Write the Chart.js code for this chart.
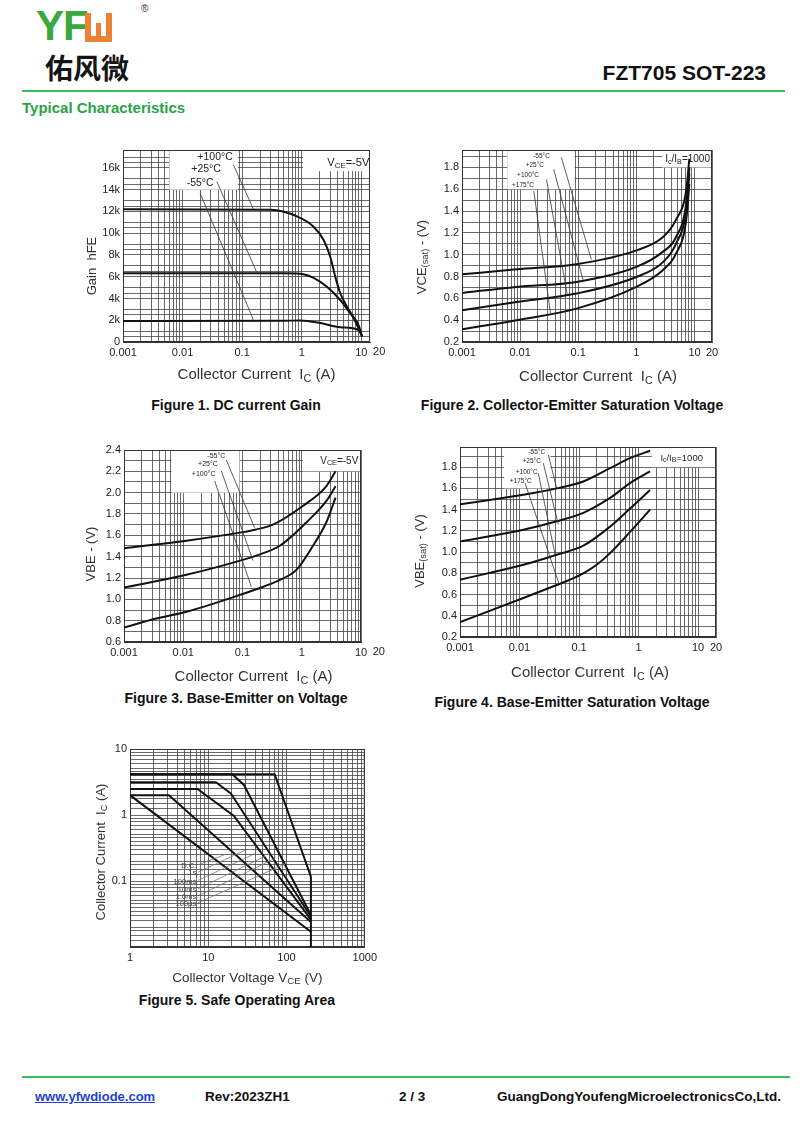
<!DOCTYPE html>
<html>
<head>
<meta charset="utf-8">
<script src="https://cdn.jsdelivr.net/npm/chart.js@4.4.1/dist/chart.umd.min.js"></script>
<style>
body { margin: 0; background: #fff; }
#page { position: relative; width: 800px; height: 1136px; overflow: hidden; font-family: "Liberation Sans", Arial, sans-serif; }
.abs { position: absolute; white-space: nowrap; }
canvas { position: absolute; }
.cap { position: absolute; width: 380px; text-align: center; font-weight: bold; font-size: 14px; color: #111; }
.foot { position: absolute; top: 1089px; font-weight: bold; font-size: 13.5px; color: #111; white-space: nowrap; }
</style>
</head>
<body>
<div id="page">
  <!-- header -->
  <div class="abs" style="left:36px;top:2px;font-family:'Liberation Sans Narrow','Liberation Sans',Arial;font-weight:bold;font-size:42px;color:#3aa83c;letter-spacing:-1px;line-height:48px">YF</div>
  <div class="abs" style="left:85px;top:13px;width:15px;height:23px;border:6px solid #ec8034;border-top:none"></div>
  <div class="abs" style="left:96px;top:23px;width:5px;height:16px;background:#ec8034"></div>
  <div class="abs" style="left:141px;top:3px;font-size:10px;color:#333">®</div>
  <div class="abs" style="left:45px;top:49px;font-family:'Noto Sans CJK SC';font-weight:bold;font-size:28px;color:#151515;line-height:36px">佑风微</div>
  <div class="abs" style="right:34px;top:61px;font-weight:bold;font-size:21px;color:#111">FZT705 SOT-223</div>
  <div class="abs" style="left:22px;top:90px;width:763px;height:2px;background:#3dba5e"></div>
  <div class="abs" style="left:22px;top:99px;font-weight:bold;font-size:15px;color:#2aa348">Typical Characteristics</div>

  <canvas id="fig1"></canvas>
  <canvas id="fig2"></canvas>
  <canvas id="fig3"></canvas>
  <canvas id="fig4"></canvas>
  <canvas id="fig5"></canvas>

  <div class="cap" style="left:46px;top:397px">Figure 1. DC current Gain</div>
  <div class="cap" style="left:382px;top:397px">Figure 2. Collector-Emitter Saturation Voltage</div>
  <div class="cap" style="left:46px;top:690px">Figure 3. Base-Emitter on Voltage</div>
  <div class="cap" style="left:382px;top:694px">Figure 4. Base-Emitter Saturation Voltage</div>
  <div class="cap" style="left:47px;top:992px">Figure 5. Safe Operating Area</div>

  <!-- footer -->
  <div class="abs" style="left:22px;top:1076px;width:768px;height:2px;background:#3dba5e"></div>
  <div class="foot" style="left:35px;font-size:13px;color:#1d3fd6;text-decoration:underline">www.yfwdiode.com</div>
  <div class="foot" style="left:205px">Rev:2023ZH1</div>
  <div class="foot" style="left:399px">2 / 3</div>
  <div class="foot" style="left:497px">GuangDongYoufengMicroelectronicsCo,Ltd.</div>
</div>

<script>
// ---------- Figure 1: DC current gain ----------
const f1Ic100 = [0.001, 0.3, 0.83, 1.58, 2.33, 3.01, 3.66, 4.43, 5.75, 7.43, 9.6, 10.3];
const f1Hfe100 = [12200, 12150, 11550, 10600, 9380, 7840, 6000, 4480, 3250, 2200, 900, 500];
const f1Ic25 = [0.001, 0.5, 0.94, 1.58, 2.65, 4.43, 6.53, 9.0, 10.3];
const f1Hfe25 = [6320, 6320, 6280, 5900, 5080, 3860, 2640, 1560, 500];
const f1IcM55 = [0.001, 0.5, 0.94, 2.05, 4.43, 9.0, 10.3];
const f1HfeM55 = [1930, 1950, 1980, 1750, 1350, 1100, 600];
const f1YTicks = [0, 2000, 4000, 6000, 8000, 10000, 12000, 14000, 16000];
const f1YText = ['0', '2k', '4k', '6k', '8k', '10k', '12k', '14k', '16k'];

// ---------- Figure 2: VCE(sat) ----------
const f2Ic = [0.001, 0.0087, 0.093, 1.0, 2.84, 4.8, 7.2, 8.15];
const f2M55 = [0.82, 0.867, 0.913, 1.04, 1.16, 1.32, 1.59, 1.88];
const f2P25 = [0.65, 0.705, 0.75, 0.888, 1.026, 1.16, 1.47, 1.80];
const f2P100 = [0.49, 0.567, 0.644, 0.796, 0.93, 1.10, 1.41, 1.745];
const f2P175 = [0.316, 0.40, 0.506, 0.705, 0.858, 1.01, 1.317, 1.65];

// ---------- Figure 3: VBE(on) ----------
const f3IcM55 = [0.001, 0.0113, 0.101, 0.17, 0.326, 1.04, 2.59, 3.72];
const f3M55 = [1.48, 1.55, 1.63, 1.655, 1.70, 1.875, 2.06, 2.2];
const f3Ic25 = [0.001, 0.0113, 0.101, 0.17, 0.42, 1.19, 2.59, 3.72];
const f3P25 = [1.11, 1.23, 1.37, 1.41, 1.50, 1.72, 1.92, 2.06];
const f3Ic100 = [0.001, 0.0035, 0.0113, 0.101, 0.17, 0.42, 0.81, 1.54, 2.59, 3.72];
const f3P100 = [0.736, 0.82, 0.883, 1.05, 1.094, 1.18, 1.276, 1.50, 1.72, 1.953];

// ---------- Figure 4: VBE(sat) ----------
const f4Ic = [0.001, 0.0116, 0.0422, 0.118, 0.332, 0.72, 1.56];
const f4M55 = [1.45, 1.54, 1.60, 1.665, 1.79, 1.885, 1.955];
const f4P25 = [1.10, 1.21, 1.29, 1.37, 1.51, 1.65, 1.76];
const f4P100 = [0.74, 0.88, 0.975, 1.06, 1.24, 1.41, 1.585];
const f4Ic175 = [0.001, 0.0116, 0.0422, 0.0706, 0.118, 0.198, 0.332, 0.72, 1.56];
const f4P175 = [0.34, 0.567, 0.69, 0.74, 0.80, 0.88, 0.99, 1.19, 1.40];

// ---------- Figure 5: safe operating area ----------
const soaVdc = [1, 205];            const soaIdc = [2.0, 0.017];
const soaV1s = [1, 3.15, 205];      const soaI1s = [2.0, 2.0, 0.024];
const soaV100ms = [1, 7.3, 21.3, 205];  const soaI100ms = [2.48, 2.48, 0.97, 0.026];
const soaV10ms = [1, 12.5, 19.4, 205];  const soaI10ms = [3.13, 3.13, 2.13, 0.029];
const soaV1ms = [1, 20.3, 28.6, 205];   const soaI1ms = [4.14, 4.14, 2.85, 0.0305];
const soaV100us = [1, 70.5, 205, 205];  const soaI100us = [4.14, 4.14, 0.116, 0.01];
const soaNames = ['D.C.', '1s', '100ms', '10ms', '1.0ms', '100µs'];

// tick labels
const icTicks = [0.001, 0.01, 0.1, 1, 10, 20];
const icText = ['0.001', '0.01', '0.1', '1', '10', '20'];
const v02Ticks = [0.2, 0.4, 0.6, 0.8, 1.0, 1.2, 1.4, 1.6, 1.8, 2.0, 2.2, 2.4];
const v02Text = ['0.2', '0.4', '0.6', '0.8', '1.0', '1.2', '1.4', '1.6', '1.8', '2.0', '2.2', '2.4'];
const vceTicks = [1, 10, 100, 1000];
const vceText = ['1', '10', '100', '1000'];
const soaITicks = [0.1, 1, 10];
const soaIText = ['0.1', '1', '10'];

const LOG_SIG = [1, 2, 3, 4, 5, 6, 7, 8, 9];
const SOA_SIG = [1, 1.25, 1.5, 1.75, 2, 2.5, 3, 3.5, 4, 4.5, 5, 6, 7, 8, 9];

const pts = (xs, ys) => xs.map((v, i) => ({ x: v, y: ys[i] }));

function logGrid(min, max, sig) {
  const out = [];
  for (let e = Math.floor(Math.log10(min)); e <= Math.ceil(Math.log10(max)); e++) {
    sig.forEach(s => {
      const v = +(s * Math.pow(10, e)).toPrecision(6);
      if (v >= min * 0.9999 && v <= max * 1.0001) out.push(v);
    });
  }
  return out;
}
function linGrid(min, max, step) {
  const out = [];
  for (let v = min; v <= max + 1e-9; v += step) out.push(+v.toFixed(4));
  return out;
}
function labeler(ticks, text) {
  return v => {
    const k = ticks.findIndex(t => Math.abs(t - v) <= Math.abs(t) * 1e-6 + 1e-9);
    return k >= 0 ? text[k] : '';
  };
}

const FONT = '"Liberation Sans", Arial, sans-serif';
function drawRuns(ctx, x, y, runs, size, align, rot, color) {
  ctx.save();
  ctx.translate(x, y);
  if (rot) ctx.rotate(rot);
  ctx.fillStyle = color || '#222';
  ctx.textBaseline = 'middle';
  ctx.textAlign = 'left';
  let w = 0;
  runs.forEach(r => { ctx.font = (r[1] ? size * 0.72 : size) + 'px ' + FONT; w += ctx.measureText(r[0]).width; });
  let cx = align === 'center' ? -w / 2 : align === 'right' ? -w : 0;
  runs.forEach(r => {
    ctx.font = (r[1] ? size * 0.72 : size) + 'px ' + FONT;
    ctx.fillText(r[0], cx, r[1] ? size * 0.25 : 0);
    cx += ctx.measureText(r[0]).width;
  });
  ctx.restore();
}

const decor = {
  id: 'decor',
  beforeDatasetsDraw(chart, args, o) {
    const { ctx, chartArea: a } = chart;
    const x = chart.scales.x, y = chart.scales.y;
    ctx.save();
    ctx.fillStyle = '#fff';
    (o.boxes || []).forEach(b => {
      const l = b[0] == null ? a.left : x.getPixelForValue(b[0]);
      const r = b[1] == null ? a.right : x.getPixelForValue(b[1]);
      const bo = b[2] == null ? a.bottom : y.getPixelForValue(b[2]);
      const t = b[3] == null ? a.top : y.getPixelForValue(b[3]);
      ctx.fillRect(l, t, r - l, bo - t);
    });
    ctx.strokeStyle = '#333';
    ctx.lineWidth = 1;
    ctx.strokeRect(a.left + 0.5, a.top + 0.5, a.width - 1, a.height - 1);
    ctx.restore();
  },
  afterDatasetsDraw(chart, args, o) {
    const { ctx, chartArea: a } = chart;
    const x = chart.scales.x, y = chart.scales.y;
    ctx.save();
    ctx.strokeStyle = o.leaderColor || '#333';
    ctx.lineWidth = 0.8;
    (o.leaders || []).forEach(l => {
      ctx.beginPath();
      ctx.moveTo(x.getPixelForValue(l[0]), y.getPixelForValue(l[1]));
      ctx.lineTo(x.getPixelForValue(l[2]), y.getPixelForValue(l[3]));
      ctx.stroke();
    });
    (o.notes || []).forEach(n => drawRuns(ctx, x.getPixelForValue(n.x), y.getPixelForValue(n.y), n.runs, n.size, n.align || 'center', 0, n.color || '#222'));
    const t = o.xTitle;
    drawRuns(ctx, (a.left + a.right) / 2 + t.dx, a.bottom + t.dy, t.runs, t.size, 'center', 0, '#333');
    const u = o.yTitle;
    drawRuns(ctx, a.left - u.dx, (a.top + a.bottom) / 2 + u.dy, u.runs, u.size, 'center', -Math.PI / 2, '#333');
    ctx.fillStyle = '#222';
    ctx.font = '11px ' + FONT;
    ctx.textAlign = 'center';
    ctx.textBaseline = 'top';
    (o.extraX || []).forEach(e => ctx.fillText(e[1], x.getPixelForValue(e[0]), a.bottom + 4));
    ctx.restore();
  }
};

function makeChart(id, s) {
  const el = document.getElementById(id);
  const padT = 10, axisW = 48, axisH = 45;
  const [l, t, r, b] = s.plot;
  el.style.left = (l - axisW) + 'px';
  el.style.top = (t - padT) + 'px';
  el.width = r - l + axisW + s.padR;
  el.height = b - t + padT + axisH;
  const tickFont = { family: FONT, size: 11 };
  new Chart(el, {
    type: 'line',
    data: {
      datasets: s.series.map(d => ({
        data: d,
        borderColor: '#111',
        borderWidth: 2,
        pointRadius: 0,
        fill: false,
        tension: s.straight ? 0 : 0.4,
        cubicInterpolationMode: s.straight ? 'default' : 'monotone'
      }))
    },
    options: {
      responsive: false,
      animation: false,
      events: [],
      layout: { padding: { top: padT, right: s.padR, left: 0, bottom: 0 } },
      plugins: { legend: { display: false }, tooltip: { enabled: false }, decor: s.decor },
      scales: {
        x: {
          type: s.xType, min: s.xMin, max: s.xMax,
          afterBuildTicks: ax => { ax.ticks = s.xGrid.map(v => ({ value: v })); },
          afterFit: ax => { ax.height = axisH; },
          grid: { color: '#444', lineWidth: 0.8, drawTicks: false },
          border: { color: '#333', width: 1 },
          ticks: { autoSkip: false, maxRotation: 0, padding: 4, font: tickFont, color: '#222', callback: s.xLabel }
        },
        y: {
          type: s.yType, min: s.yMin, max: s.yMax,
          afterBuildTicks: ax => { ax.ticks = s.yGrid.map(v => ({ value: v })); },
          afterFit: ax => { ax.width = axisW; },
          grid: { color: '#444', lineWidth: 0.8, drawTicks: false },
          border: { color: '#333', width: 1 },
          ticks: { autoSkip: false, padding: 3, font: tickFont, color: '#222', callback: s.yLabel }
        }
      }
    },
    plugins: [decor]
  });
}

const title = txt => [[txt]];
const icTitle = [['Collector Current  I'], ['C', 1], [' (A)']];

// Figure 1
const f1YGrid = [];
f1YTicks.forEach(v => { f1YGrid.push(v, v + 500, v + 1000); });
makeChart('fig1', {
  plot: [123, 150, 370, 342], padR: 22,
  xType: 'logarithmic', xMin: 0.001, xMax: 14, xGrid: logGrid(0.001, 14, LOG_SIG), xLabel: labeler(icTicks, icText),
  yType: 'linear', yMin: 0, yMax: 17650, yGrid: f1YGrid.filter(v => v <= 17650), yLabel: labeler(f1YTicks, f1YText),
  series: [pts(f1Ic100, f1Hfe100), pts(f1Ic25, f1Hfe25), pts(f1IcM55, f1HfeM55)],
  decor: {
    boxes: [[0.006, 0.085, 14000, null], [1.05, null, 15700, null]],
    leaders: [[0.0714, 16276, 0.155, 12200], [0.0376, 14740, 0.177, 6372], [0.0197, 13674, 0.155, 2023]],
    notes: [
      { x: 0.0351, y: 17011, runs: title('+100°C'), size: 10.5 },
      { x: 0.0248, y: 15908, runs: title('+25°C'), size: 10.5 },
      { x: 0.0197, y: 14621, runs: title('-55°C'), size: 10.5 },
      { x: 6.05, y: 16460, runs: [['V'], ['CE', 1], ['=-5V']], size: 11 }
    ],
    xTitle: { runs: icTitle, size: 15, dx: 10, dy: 33 },
    yTitle: { runs: title('Gain  hFE'), size: 13, dx: 31, dy: 20 },
    extraX: [[20, '20']]
  }
});

// Figure 2
makeChart('fig2', {
  plot: [462, 150, 712.5, 342], padR: 20,
  xType: 'logarithmic', xMin: 0.001, xMax: 20, xGrid: logGrid(0.001, 20, LOG_SIG), xLabel: labeler(icTicks, icText),
  yType: 'linear', yMin: 0.2, yMax: 1.96, yGrid: linGrid(0.2, 1.96, 0.1), yLabel: labeler(v02Ticks.slice(0, 9), v02Text.slice(0, 9)),
  series: [pts(f2Ic, f2M55), pts(f2Ic, f2P25), pts(f2Ic, f2P100), pts(f2Ic, f2P175)],
  decor: {
    boxes: [[0.006, 0.087, 1.6, null], [2.8, null, 1.8, null]],
    leaders: [[0.0513, 1.892, 0.168, 0.956], [0.0379, 1.782, 0.1205, 0.772], [0.0284, 1.69, 0.065, 0.628], [0.0172, 1.585, 0.0332, 0.466]],
    notes: [
      { x: 0.0233, y: 1.904, runs: title('-55°C'), size: 6.5 },
      { x: 0.0179, y: 1.821, runs: title('+25°C'), size: 6.5 },
      { x: 0.0137, y: 1.729, runs: title('+100°C'), size: 6.5 },
      { x: 0.0112, y: 1.638, runs: title('+175°C'), size: 6.5 },
      { x: 7.6, y: 1.873, runs: [['I'], ['c', 1], ['/I'], ['B', 1], ['=1000']], size: 10 }
    ],
    xTitle: { runs: icTitle, size: 15, dx: 11, dy: 35 },
    yTitle: { runs: [['VCE'], ['(sat)', 1], [' - (V)']], size: 13, dx: 40, dy: 11 }
  }
});

// Figure 3
makeChart('fig3', {
  plot: [124, 450, 361.5, 642], padR: 30,
  xType: 'logarithmic', xMin: 0.001, xMax: 10, xGrid: logGrid(0.001, 10, LOG_SIG), xLabel: labeler(icTicks, icText),
  yType: 'linear', yMin: 0.6, yMax: 2.4, yGrid: linGrid(0.6, 2.4, 0.1), yLabel: labeler(v02Ticks, v02Text),
  series: [pts(f3IcM55, f3M55), pts(f3Ic25, f3P25), pts(f3Ic100, f3P100)],
  decor: {
    boxes: [[0.0063, 0.089, 2.0, null], [1.04, null, 2.2, null]],
    leaders: [[0.0533, 2.307, 0.16, 1.67], [0.0439, 2.204, 0.15, 1.364], [0.0339, 2.109, 0.141, 1.119]],
    notes: [
      { x: 0.0361, y: 2.345, runs: title('-55°C'), size: 7 },
      { x: 0.0261, y: 2.267, runs: title('+25°C'), size: 7 },
      { x: 0.0221, y: 2.173, runs: title('+100°C'), size: 7 },
      { x: 4.3, y: 2.298, runs: [['V'], ['CE', 1], ['=-5V']], size: 10 }
    ],
    xTitle: { runs: icTitle, size: 15, dx: 11, dy: 35 },
    yTitle: { runs: title('VBE - (V)'), size: 13, dx: 33, dy: 8 },
    extraX: [[20, '20']]
  }
});

// Figure 4
makeChart('fig4', {
  plot: [460, 447, 716, 637], padR: 20,
  xType: 'logarithmic', xMin: 0.001, xMax: 20, xGrid: logGrid(0.001, 20, LOG_SIG), xLabel: labeler(icTicks, icText),
  yType: 'linear', yMin: 0.2, yMax: 1.99, yGrid: linGrid(0.2, 1.99, 0.1), yLabel: labeler(v02Ticks.slice(0, 9), v02Text.slice(0, 9)),
  series: [pts(f4Ic, f4M55), pts(f4Ic, f4P25), pts(f4Ic, f4P100), pts(f4Ic175, f4P175)],
  decor: {
    boxes: [[0.0055, 0.033, 1.6, null], [1.67, null, 1.8, null]],
    leaders: [[0.0305, 1.916, 0.042, 1.602], [0.0251, 1.838, 0.0449, 1.26], [0.0207, 1.743, 0.0396, 0.975], [0.0124, 1.649, 0.0467, 0.692]],
    notes: [
      { x: 0.0195, y: 1.941, runs: title('-55°C'), size: 6.5 },
      { x: 0.016, y: 1.853, runs: title('+25°C'), size: 6.5 },
      { x: 0.0132, y: 1.753, runs: title('+100°C'), size: 6.5 },
      { x: 0.0105, y: 1.664, runs: title('+175°C'), size: 6.5 },
      { x: 5.3, y: 1.885, runs: [['I'], ['c', 1], ['/I'], ['B', 1], ['=1000']], size: 9.5 }
    ],
    xTitle: { runs: icTitle, size: 15, dx: 2, dy: 36 },
    yTitle: { runs: [['VBE'], ['(sat)', 1], [' - (V)']], size: 13, dx: 40, dy: 9 }
  }
});

// Figure 5
const soaLabelI = [0.169, 0.1307, 0.098, 0.0731, 0.0573, 0.0449];
const soaLeadV = [16.7, 30, 40.2, 53.7, 71.9, 96.3];
const soaLeadI = [0.254, 0.295, 0.263, 0.239, 0.221, 0.181];
makeChart('fig5', {
  plot: [130, 749, 367, 947], padR: 14, straight: true,
  xType: 'logarithmic', xMin: 1, xMax: 1000, xGrid: logGrid(1, 1000, LOG_SIG), xLabel: labeler(vceTicks, vceText),
  yType: 'logarithmic', yMin: 0.01, yMax: 10, yGrid: logGrid(0.01, 10, SOA_SIG), yLabel: labeler(soaITicks, soaIText),
  series: [pts(soaVdc, soaIdc), pts(soaV1s, soaI1s), pts(soaV100ms, soaI100ms), pts(soaV10ms, soaI10ms), pts(soaV1ms, soaI1ms), pts(soaV100us, soaI100us)],
  decor: {
    leaderColor: '#777',
    leaders: soaNames.map((n, i) => [7.4, soaLabelI[i] * 1.04, soaLeadV[i], soaLeadI[i]]),
    notes: soaNames.map((n, i) => ({ x: 7.0, y: soaLabelI[i], runs: title(n), size: 7.5, align: 'right', color: '#444' })),
    xTitle: { runs: [['Collector Voltage V'], ['CE', 1], [' (V)']], size: 13.5, dx: 0, dy: 31 },
    yTitle: { runs: icTitle, size: 13, dx: 29, dy: 4 }
  }
});
</script>
</body>
</html>
